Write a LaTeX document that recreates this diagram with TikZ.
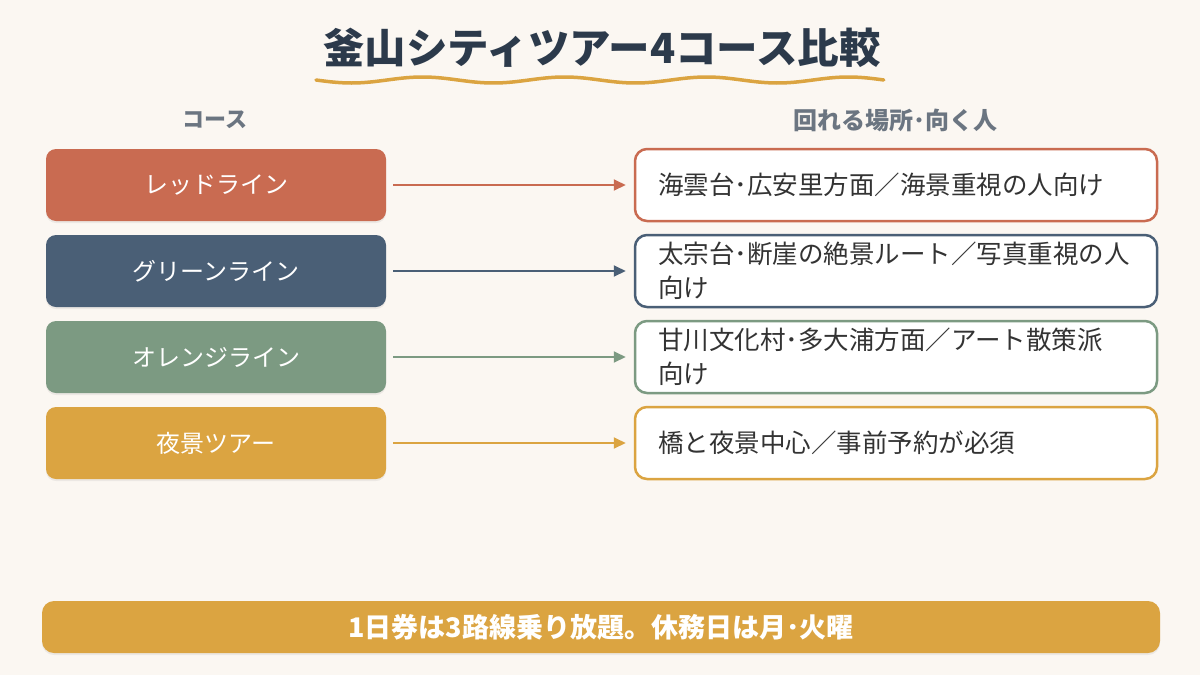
\documentclass[tikz,border=0pt]{standalone}
\usepackage{fontspec}
\setmainfont{Noto Sans CJK JP}
\usetikzlibrary{arrows.meta,shadows}

\definecolor{bgcream}{HTML}{FBF7F2}
\definecolor{titleink}{HTML}{2C3A4B}
\definecolor{headink}{HTML}{6B7581}
\definecolor{bodyink}{HTML}{333333}
\definecolor{redline}{HTML}{C96B51}
\definecolor{greenline}{HTML}{4A5F76}
\definecolor{orangeline}{HTML}{7C9A82}
\definecolor{nightgold}{HTML}{DBA441}

\tikzset{
  course/.style={rounded corners=10pt, minimum width=340pt, minimum height=72pt,
    inner sep=0pt, text=white, font=\fontsize{24}{28}\selectfont,
    drop shadow={opacity=0.12, shadow xshift=0pt, shadow yshift=-2pt}},
  spot/.style={draw, line width=2.5pt, fill=white, rounded corners=12pt,
    minimum width=522pt, minimum height=72pt, inner xsep=23pt, inner ysep=0pt,
    text width=476pt, align=left, text=bodyink,
    font=\fontsize{25.5}{34}\selectfont},
  link/.style={line width=2pt, -{Triangle[length=12pt,width=11pt]},
    shorten <=7pt, shorten >=8pt},
  colhead/.style={text=headink, font=\fontsize{22}{26}\selectfont\bfseries},
}

\begin{document}
\begin{tikzpicture}[x=1pt, y=-1pt]

  % Page background and fixed size
  \fill[bgcream] (0,0) rectangle (1200,675);
  \useasboundingbox (0,0) rectangle (1200,675);

  % Title with a wavy underline
  \node[text=titleink, font=\fontsize{41.5}{46}\selectfont\bfseries] (title) at (602,48)
    {釜山シティツアー4コース比較};
  \draw[nightgold, line width=3.5pt, line cap=round]
    plot[domain=0:4, samples=160] ({316 + 142*\x}, {80 + 3*sin(360*\x)});

  % Column headings
  \node[colhead] (hcourse) at (215,120) {コース};
  \node[colhead, font=\fontsize{24}{28}\selectfont\bfseries] (hspot) at (895,120)
    {回れる場所･向く人};

  % Course boxes (left column)
  \node[course, fill=redline] (red) at (216,185) {レッドライン};
  \node[course, fill=greenline] (green) at (216,271) {グリーンライン};
  \node[course, fill=orangeline] (orange) at (216,357) {オレンジライン};
  \node[course, fill=nightgold] (night) at (216,443) {夜景ツアー};

  % What each course covers (right column)
  \node[spot, draw=redline] (redspot) at (896,185)
    {海雲台･広安里方面／海景重視の人向け};
  \node[spot, draw=greenline] (greenspot) at (896,271)
    {太宗台･断崖の絶景ルート／写真重視の人\\向け};
  \node[spot, draw=orangeline] (orangespot) at (896,357)
    {甘川文化村･多大浦方面／アート散策派\\向け};
  \node[spot, draw=nightgold] (nightspot) at (896,443)
    {橋と夜景中心／事前予約が必須};

  % Arrows from course to description
  \draw[link, redline] (red) -- (redspot);
  \draw[link, greenline] (green) -- (greenspot);
  \draw[link, orangeline] (orange) -- (orangespot);
  \draw[link, nightgold] (night) -- (nightspot);

  % Footnote bar
  \node[fill=nightgold, rounded corners=12pt, minimum width=1118pt, minimum height=52pt,
    inner sep=0pt, text=white, font=\fontsize{27}{30}\selectfont\bfseries,
    drop shadow={opacity=0.12, shadow xshift=0pt, shadow yshift=-2pt}] (note) at (601,627)
    {1日券は3路線乗り放題。休務日は月･火曜};

\end{tikzpicture}
\end{document}
